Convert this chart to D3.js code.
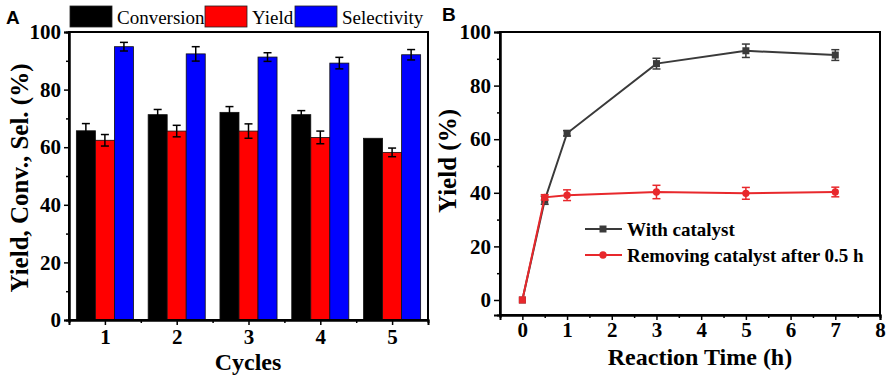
<!DOCTYPE html>
<html>
<head>
<meta charset="utf-8">
<script src="https://cdn.jsdelivr.net/npm/d3@7"></script>
<style>
  body { margin: 0; background: #fff; }
  svg { display: block; }
</style>
</head>
<body>
<script>
// ---- data: panel A (recycling) ----
var cycles = [1, 2, 3, 4, 5];
var conversion = [65.7, 71.3, 72.1, 71.3, 63.1];
var conversionErr = [2.5, 1.8, 2.0, 1.4, 0];
var yieldA = [62.4, 65.6, 65.6, 63.4, 58.2];
var yieldErr = [2.0, 2.0, 2.5, 2.2, 1.5];
var selectivity = [94.9, 92.4, 91.3, 89.2, 92.1];
var selectivityErr = [1.5, 2.5, 1.5, 2.0, 1.8];
var seriesNames = ["Conversion", "Yield", "Selectivity"];

// ---- data: panel B (hot filtration) ----
var time = [0, 0.5, 1, 3, 5, 7];
var withCat = [0, 37.2, 62.2, 88.2, 93.0, 91.4];
var withCatErr = [0, 1.5, 1.0, 2.0, 2.5, 2.0];
var removed = [0, 38.3, 39.1, 40.3, 39.8, 40.3];
var removedErr = [0, 1.0, 2.0, 2.5, 2.2, 1.8];
var removedShape = ["square", "circle", "circle", "circle", "circle", "circle"];
var legendB = ["With catalyst", "Removing catalyst after 0.5 h"];

var yTicks = [0, 20, 40, 60, 80, 100];

var W = 886, H = 380;
var serif = "'Liberation Serif', 'Times New Roman', serif";
var sans = "'Liberation Sans', Arial, sans-serif";

var svg = d3.select("body").append("svg")
    .attr("width", W)
    .attr("height", H);

function frame(g, x0, x1, y0, y1) {
    g.append("rect")
        .attr("x", x0).attr("y", y0)
        .attr("width", x1 - x0).attr("height", y1 - y0)
        .attr("fill", "none")
        .attr("stroke", "#000")
        .attr("stroke-width", 2);
}

function errBar(g, cx, yv, e, y, color) {
    if (!e) return;
    g.append("line")
        .attr("x1", cx).attr("x2", cx)
        .attr("y1", y(yv - e)).attr("y2", y(yv + e))
        .attr("stroke", color).attr("stroke-width", 1.5);
    [yv - e, yv + e].forEach(function (v) {
        g.append("line")
            .attr("x1", cx - 4).attr("x2", cx + 4)
            .attr("y1", y(v)).attr("y2", y(v))
            .attr("stroke", color).attr("stroke-width", 1.5);
    });
}

// ================= Panel A =================
var xA = d3.scaleLinear().domain([0.5, 5.5]).range([69, 428]);
var yA = d3.scaleLinear().domain([0, 100]).range([320, 32]);
var gA = svg.append("g");

var barW = 0.265;
var groups = [
    { name: "Conversion", vals: conversion, err: conversionErr, color: "#000000", off: -barW },
    { name: "Yield", vals: yieldA, err: yieldErr, color: "#ff0000", off: 0 },
    { name: "Selectivity", vals: selectivity, err: selectivityErr, color: "#0000ff", off: barW }
];

groups.forEach(function (s) {
    gA.selectAll(null)
        .data(cycles)
        .enter().append("rect")
        .attr("x", function (d) { return xA(d + s.off - barW / 2); })
        .attr("width", xA(barW) - xA(0))
        .attr("y", function (d, i) { return yA(s.vals[i]); })
        .attr("height", function (d, i) { return yA(0) - yA(s.vals[i]); })
        .attr("fill", s.color)
        .attr("stroke", "#111")
        .attr("stroke-width", 0.8);
});
groups.forEach(function (s) {
    cycles.forEach(function (c, i) {
        errBar(gA, xA(c + s.off), s.vals[i], s.err[i], yA, "#000");
    });
});

// axes A
gA.append("g").attr("transform", "translate(69,0)")
    .call(d3.axisLeft(yA).tickValues(yTicks).tickSize(5).tickPadding(3));
gA.append("g").attr("transform", "translate(69,0)")
    .call(d3.axisLeft(yA).tickValues([10, 30, 50, 70, 90]).tickSize(3).tickFormat(""));
gA.append("g").attr("transform", "translate(0,320)")
    .call(d3.axisBottom(xA).tickValues(cycles).tickSize(5).tickPadding(4).tickFormat(d3.format("d")));
gA.append("g").attr("transform", "translate(0,320)")
    .call(d3.axisBottom(xA).tickValues([1.5, 2.5, 3.5, 4.5]).tickSize(3).tickFormat(""));

frame(gA, 69, 428, 32, 320);

// legend A
var legX = [70, 205, 295];
groups.forEach(function (s, i) {
    gA.append("rect")
        .attr("x", legX[i]).attr("y", 6)
        .attr("width", 42).attr("height", 21)
        .attr("fill", s.color)
        .attr("stroke", "#222").attr("stroke-width", 0.8);
    gA.append("text")
        .attr("x", legX[i] + 47).attr("y", 24)
        .attr("font-family", serif)
        .attr("font-size", 19)
        .text(seriesNames[i]);
});

gA.append("text")
    .attr("transform", "translate(28,178) rotate(-90)")
    .attr("text-anchor", "middle")
    .attr("font-family", serif).attr("font-weight", "bold").attr("font-size", 25)
    .text("Yield, Conv., Sel. (%)");
gA.append("text")
    .attr("x", 248).attr("y", 370)
    .attr("text-anchor", "middle")
    .attr("font-family", serif).attr("font-weight", "bold").attr("font-size", 24)
    .text("Cycles");
gA.append("text")
    .attr("x", 6).attr("y", 24)
    .attr("font-family", sans).attr("font-weight", "bold").attr("font-size", 19)
    .text("A");

// ================= Panel B =================
var xB = d3.scaleLinear().domain([-0.5, 8]).range([500, 880]);
var yB = d3.scaleLinear().domain([-5.6, 100]).range([315, 32]);
var gB = svg.append("g");

gB.append("g").attr("transform", "translate(500,0)")
    .call(d3.axisLeft(yB).tickValues(yTicks).tickSize(6).tickPadding(3));
gB.append("g").attr("transform", "translate(500,0)")
    .call(d3.axisLeft(yB).tickValues([10, 30, 50, 70, 90]).tickSize(3).tickFormat(""));
gB.append("g").attr("transform", "translate(0,315)")
    .call(d3.axisBottom(xB).tickValues(d3.range(0, 9)).tickSize(5).tickPadding(2).tickFormat(d3.format("d")));
gB.append("g").attr("transform", "translate(0,315)")
    .call(d3.axisBottom(xB).tickValues(d3.range(0.5, 8, 1)).tickSize(3).tickFormat(""));

var gray = "#3a3a3a", red = "#e8282c";
var line = d3.line()
    .x(function (d) { return xB(d[0]); })
    .y(function (d) { return yB(d[1]); });

gB.append("path")
    .datum(time.map(function (t, i) { return [t, withCat[i]]; }))
    .attr("d", line)
    .attr("fill", "none").attr("stroke", gray).attr("stroke-width", 2);
time.forEach(function (t, i) { errBar(gB, xB(t), withCat[i], withCatErr[i], yB, gray); });
gB.selectAll(null).data(time).enter().append("rect")
    .attr("x", function (d) { return xB(d) - 3.5; })
    .attr("y", function (d, i) { return yB(withCat[i]) - 3.5; })
    .attr("width", 7).attr("height", 7)
    .attr("fill", gray);

gB.append("path")
    .datum(time.map(function (t, i) { return [t, removed[i]]; }))
    .attr("d", line)
    .attr("fill", "none").attr("stroke", red).attr("stroke-width", 2);
time.forEach(function (t, i) { errBar(gB, xB(t), removed[i], removedErr[i], yB, red); });
gB.selectAll(null).data(time).enter().append("path")
    .attr("transform", function (d, i) { return "translate(" + xB(d) + "," + yB(removed[i]) + ")"; })
    .attr("d", function (d, i) {
        var sym = removedShape[i] == "square" ? d3.symbolSquare : d3.symbolCircle;
        return d3.symbol().type(sym).size(removedShape[i] == "square" ? 49 : 42)();
    })
    .attr("fill", red);

frame(gB, 500, 880, 32, 315);

// legend B
[[gray, 229, "square"], [red, 255, "circle"]].forEach(function (l, i) {
    gB.append("line")
        .attr("x1", 585).attr("x2", 622)
        .attr("y1", l[1]).attr("y2", l[1])
        .attr("stroke", l[0]).attr("stroke-width", 2);
    gB.append("path")
        .attr("transform", "translate(603," + l[1] + ")")
        .attr("d", d3.symbol().type(l[2] == "square" ? d3.symbolSquare : d3.symbolCircle).size(l[2] == "square" ? 49 : 42)())
        .attr("fill", l[0]);
    gB.append("text")
        .attr("x", 627).attr("y", l[1] + 7)
        .attr("font-family", serif).attr("font-weight", "bold").attr("font-size", 19)
        .text(legendB[i]);
});

gB.append("text")
    .attr("transform", "translate(456,161) rotate(-90)")
    .attr("text-anchor", "middle")
    .attr("font-family", serif).attr("font-weight", "bold").attr("font-size", 25)
    .text("Yield (%)");
gB.append("text")
    .attr("x", 700).attr("y", 365)
    .attr("text-anchor", "middle")
    .attr("font-family", serif).attr("font-weight", "bold").attr("font-size", 24)
    .text("Reaction Time (h)");
gB.append("text")
    .attr("x", 442).attr("y", 21)
    .attr("font-family", sans).attr("font-weight", "bold").attr("font-size", 19)
    .text("B");

// common axis styling
svg.selectAll(".domain").attr("stroke", "#000").attr("stroke-width", 2);
svg.selectAll(".tick line").attr("stroke", "#000").attr("stroke-width", 1.5);
svg.selectAll(".tick text")
    .attr("font-family", serif)
    .attr("font-weight", "bold")
    .attr("font-size", 21)
    .attr("fill", "#000");
</script>
</body>
</html>
